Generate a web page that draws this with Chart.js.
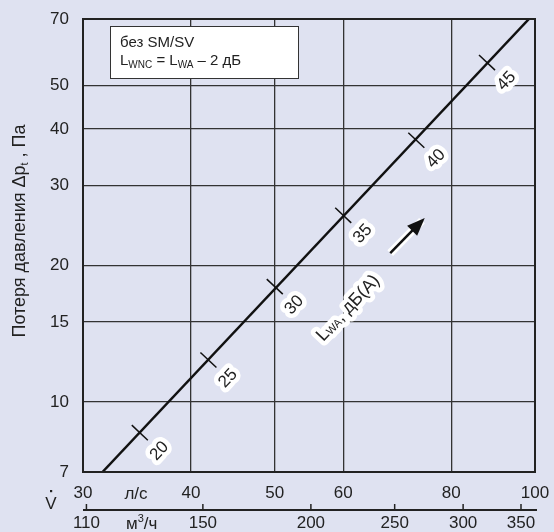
<!DOCTYPE html>
<html lang="ru">
<head>
  <meta charset="UTF-8" />
  <title>Потеря давления</title>
  <script src="https://cdn.jsdelivr.net/npm/chart.js"></script>
  <style>
    * { margin: 0; padding: 0; box-sizing: border-box; }
    body { background: #dfe2f1; }
    .wrap { position: relative; width: 554px; height: 532px; }
  </style>
</head>
<body>
  <div class="wrap"><canvas id="chart"></canvas></div>

  <script>
    // axis ticks
    const yTicks = [7, 10, 15, 20, 30, 40, 50, 70];
    const lsTicks = [30, 40, 50, 60, 80, 100];
    const m3Ticks = [110, 150, 200, 250, 300, 350];

    // characteristic line (л/с, Па)
    const lineFlow = [31.6, 98.4];
    const linePress = [7, 70];

    // sound level marks along the line
    const dbLevels = [20, 25, 30, 35, 40, 45];
    const dbFlow = [34.9, 41.9, 50.0, 60.0, 72.9, 88.0];
    const dbPress = [8.55, 12.37, 17.96, 25.8, 37.8, 56.1];

    // "LWA, дБ(A)" label and arrow, in data units
    const lwaLabel = { x: 60.8, y: 16.1 };
    const arrowFrom = { x: 68.0, y: 21.3 };
    const arrowTo = { x: 74.0, y: 25.1 };

    const FONT = '"Liberation Sans", Arial, sans-serif';
    const INK = '#222';

    function txt(ctx, s, x, y, size, halo) {
      ctx.font = size + 'px ' + FONT;
      if (halo) {
        ctx.strokeStyle = '#fff';
        ctx.lineWidth = halo;
        ctx.lineJoin = 'round';
        ctx.strokeText(s, x, y);
      }
      ctx.fillStyle = INK;
      ctx.fillText(s, x, y);
      return ctx.measureText(s).width;
    }

    // pieces: [text, size, baselineShift]
    function runWidth(ctx, pieces) {
      let w = 0;
      pieces.forEach(p => { ctx.font = p[1] + 'px ' + FONT; w += ctx.measureText(p[0]).width; });
      return w;
    }
    function drawRun(ctx, pieces, x, y, halo) {
      let cx = x;
      if (halo) pieces.forEach(p => { ctx.font = p[1] + 'px ' + FONT; ctx.strokeStyle = '#fff'; ctx.lineWidth = halo; ctx.lineJoin = 'round'; ctx.strokeText(p[0], cx, y + p[2]); cx += ctx.measureText(p[0]).width; });
      cx = x;
      pieces.forEach(p => { cx += txt(ctx, p[0], cx, y + p[2], p[1]); });
    }

    const decor = {
      id: 'decor',
      afterDatasetsDraw(chart) {
        const { ctx, chartArea: a, scales: { x, y, x2 } } = chart;
        ctx.save();
        ctx.textBaseline = 'alphabetic';
        ctx.textAlign = 'left';

        // line direction in pixels
        const p0 = { x: x.getPixelForValue(lineFlow[0]), y: y.getPixelForValue(linePress[0]) };
        const p1 = { x: x.getPixelForValue(lineFlow[1]), y: y.getPixelForValue(linePress[1]) };
        const len = Math.hypot(p1.x - p0.x, p1.y - p0.y);
        const dx = (p1.x - p0.x) / len, dy = (p1.y - p0.y) / len;
        const nx = -dy, ny = dx;
        const ang = Math.atan2(dy, dx);

        // dB tick marks and labels
        dbLevels.forEach((lv, i) => {
          const px = x.getPixelForValue(dbFlow[i]);
          const py = y.getPixelForValue(dbPress[i]);
          ctx.strokeStyle = '#111';
          ctx.lineWidth = 1.5;
          ctx.beginPath();
          ctx.moveTo(px - nx * 11, py - ny * 11);
          ctx.lineTo(px + nx * 11, py + ny * 11);
          ctx.stroke();
          ctx.save();
          ctx.translate(px + nx * 27, py + ny * 27);
          ctx.rotate(ang);
          ctx.textAlign = 'center';
          ctx.textBaseline = 'middle';
          txt(ctx, String(lv), 0, 0, 17, 9);
          ctx.restore();
        });

        // LWA label
        const lx = x.getPixelForValue(lwaLabel.x), ly = y.getPixelForValue(lwaLabel.y);
        const lwa = [['L', 18, 0], ['WA', 11, 3], [', дБ(A)', 18, 0]];
        ctx.save();
        ctx.translate(lx, ly);
        ctx.rotate(ang);
        ctx.textBaseline = 'middle';
        drawRun(ctx, lwa, -runWidth(ctx, lwa) / 2, 0, 9);
        ctx.restore();

        // arrow
        const ax0 = x.getPixelForValue(arrowFrom.x), ay0 = y.getPixelForValue(arrowFrom.y);
        const ax1 = x.getPixelForValue(arrowTo.x), ay1 = y.getPixelForValue(arrowTo.y);
        const al = Math.hypot(ax1 - ax0, ay1 - ay0);
        const ux = (ax1 - ax0) / al, uy = (ay1 - ay0) / al;
        ctx.strokeStyle = '#fff';
        ctx.lineWidth = 8;
        ctx.beginPath(); ctx.moveTo(ax0, ay0); ctx.lineTo(ax1, ay1); ctx.stroke();
        ctx.strokeStyle = '#111';
        ctx.lineWidth = 2.5;
        ctx.beginPath(); ctx.moveTo(ax0, ay0); ctx.lineTo(ax1 - ux * 10, ay1 - uy * 10); ctx.stroke();
        ctx.fillStyle = '#111';
        ctx.beginPath();
        ctx.moveTo(ax1 + ux * 4, ay1 + uy * 4);
        ctx.lineTo(ax1 - ux * 14 - uy * 7, ay1 - uy * 14 + ux * 7);
        ctx.lineTo(ax1 - ux * 14 + uy * 7, ay1 - uy * 14 - ux * 7);
        ctx.closePath();
        ctx.fill();

        // plot frame
        ctx.strokeStyle = INK;
        ctx.lineWidth = 2;
        ctx.strokeRect(a.left, a.top, a.width, a.height);

        // note box
        ctx.fillStyle = '#fff';
        ctx.fillRect(110, 26, 188, 52);
        ctx.strokeStyle = '#333';
        ctx.lineWidth = 1;
        ctx.strokeRect(110.5, 26.5, 188, 52);
        txt(ctx, 'без SM/SV', 120, 47, 15);
        drawRun(ctx, [['L', 15, 0], ['WNC', 10, 3], [' = L', 15, 0], ['WA', 10, 3], [' – 2 дБ', 15, 0]], 120, 65);

        // y title
        ctx.save();
        ctx.translate(25, 231);
        ctx.rotate(-Math.PI / 2);
        const yt = [['Потеря давления Δp', 18, 0], ['t', 11, 3], [' , Па', 18, 0]];
        drawRun(ctx, yt, -runWidth(ctx, yt) / 2, 0);
        ctx.restore();

        // m3/h axis line with upward ticks
        const by = x2.top;
        ctx.strokeStyle = INK;
        ctx.lineWidth = 2;
        ctx.beginPath(); ctx.moveTo(a.left, by); ctx.lineTo(a.right + 2, by); ctx.stroke();
        ctx.lineWidth = 1.5;
        m3Ticks.forEach(v => {
          const tx = x2.getPixelForValue(v);
          ctx.beginPath(); ctx.moveTo(tx, by); ctx.lineTo(tx, by - 6); ctx.stroke();
        });

        // unit labels
        ctx.textAlign = 'center';
        txt(ctx, 'л/с', 136, 499, 17);
        txt(ctx, 'V', 51, 509, 17);
        ctx.fillStyle = INK;
        ctx.fillRect(50, 490, 2.2, 2.2);
        ctx.textAlign = 'left';
        drawRun(ctx, [['м', 17, 0], ['3', 11, -7], ['/ч', 17, 0]], 126, 529);

        ctx.restore();
      }
    };

    const tickFont = { family: FONT, size: 17 };
    const noPad = s => { s.paddingLeft = 0; s.paddingRight = 0; s.paddingTop = 0; s.paddingBottom = 0; };

    new Chart(document.getElementById('chart'), {
      type: 'scatter',
      data: {
        datasets: [{
          data: lineFlow.map((v, i) => ({ x: v, y: linePress[i] })),
          showLine: true,
          borderColor: '#111',
          borderWidth: 2.5,
          pointRadius: 0
        }]
      },
      options: {
        responsive: true,
        maintainAspectRatio: false,
        animation: false,
        layout: { padding: { top: 19, right: 19, left: 0, bottom: 0 } },
        plugins: { legend: { display: false }, tooltip: { enabled: false } },
        scales: {
          y: {
            type: 'logarithmic',
            min: 7, max: 70,
            afterBuildTicks: s => { s.ticks = yTicks.map(v => ({ value: v })); },
            afterFit: s => { s.width = 83; noPad(s); },
            ticks: { font: tickFont, color: INK, padding: 14, callback: v => String(v) },
            grid: { color: '#333', lineWidth: 1.3, drawTicks: false },
            border: { display: false }
          },
          x: {
            type: 'logarithmic',
            position: 'bottom',
            weight: 0,
            min: 30, max: 100,
            afterBuildTicks: s => { s.ticks = lsTicks.map(v => ({ value: v })); },
            afterFit: s => { s.height = 38; noPad(s); },
            ticks: { font: tickFont, color: INK, padding: 11, maxRotation: 0, autoSkip: false, callback: v => String(v) },
            grid: { color: '#333', lineWidth: 1.3, drawTicks: false },
            border: { display: false }
          },
          x2: {
            type: 'logarithmic',
            position: 'bottom',
            weight: 1,
            min: 109, max: 363.3,
            afterBuildTicks: s => { s.ticks = m3Ticks.map(v => ({ value: v })); },
            afterFit: s => { s.height = 22; noPad(s); },
            ticks: { font: tickFont, color: INK, padding: 3, maxRotation: 0, autoSkip: false, callback: v => String(v) },
            grid: { display: false, drawTicks: false },
            border: { display: false }
          }
        }
      },
      plugins: [decor]
    });
  </script>
</body>
</html>
